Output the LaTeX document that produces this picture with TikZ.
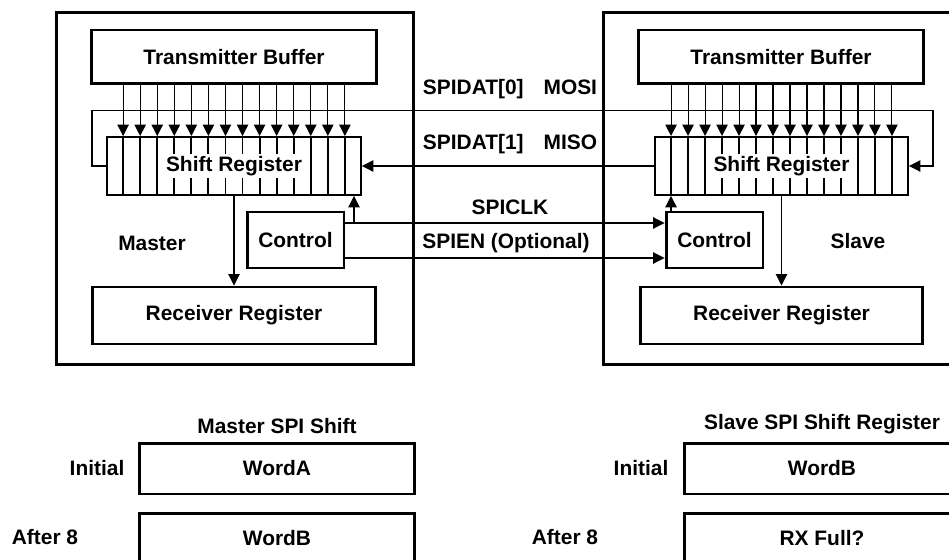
\documentclass[tikz,border=0pt]{standalone}
\usepackage{fontspec}
\setmainfont{Liberation Sans}
\usetikzlibrary{arrows.meta,positioning,calc}

\begin{document}
\begin{tikzpicture}[
    x=0.02cm, y=-0.02cm,
    every node/.style={font=\fontsize{11.9}{14}\selectfont\bfseries, inner sep=1pt},
    outer/.style={draw, line width=1.7pt, minimum width=7.16cm, minimum height=7.06cm},
    box/.style={draw, line width=1.7pt, align=center},
    shreg/.style={draw, line width=1.1pt, minimum height=1.16cm},
    word/.style={box, minimum width=5.52cm, minimum height=1.02cm},
    cell/.style={line width=1.1pt},
    arrow/.style={-{Triangle[length=2.3mm, width=2.3mm]}, line width=0.6pt},
  ]
  \useasboundingbox (0,0) rectangle (949,560);
  \clip (0,0) rectangle (949,560);

  % Master
  \node[outer] (mOuter) at (235,188.5) {};
  \node[box, minimum width=5.72cm, minimum height=1.08cm] (mBuf) at (234,57) {Transmitter Buffer};
  \node[shreg, minimum width=5.08cm] (mShift) at (234,166) {};
  \node[box, minimum width=1.94cm, minimum height=1.12cm] (mCtrl) at (295.5,240) {Control};
  \node[box, minimum width=5.68cm, minimum height=1.14cm] (mRecv) at (234,315.5) {Receiver Register};
  \node (mName) at (152,243) {Master};

  \foreach \i in {1,...,14}{
    \coordinate (mc\i) at ($(mShift.north west)!\i/15!(mShift.north east)$);
    \draw[cell] (mc\i) -- (mc\i |- mShift.south);
    \draw[arrow] (mc\i |- mBuf.south) -- (mc\i);
  }
  \node[fill=white] (mShiftTxt) at (mShift) {Shift Register};

  % Slave
  \node[outer] (sOuter) at (782,188.5) {};
  \node[box, minimum width=5.72cm, minimum height=1.08cm] (sBuf) at (781,57) {Transmitter Buffer};
  \node[shreg, minimum width=5.06cm] (sShift) at (781.5,166) {};
  \node[box, minimum width=1.94cm, minimum height=1.12cm] (sCtrl) at (714.5,240) {Control};
  \node[box, minimum width=5.66cm, minimum height=1.14cm] (sRecv) at (781.5,315.5) {Receiver Register};
  \node (sName) at (858,241) {Slave};

  \foreach \i in {1,...,14}{
    \coordinate (sc\i) at ($(sShift.north west)!\i/15!(sShift.north east)$);
    \draw[cell] (sc\i) -- (sc\i |- sShift.south);
    \draw[arrow] (sc\i |- sBuf.south) -- (sc\i);
  }
  \node[fill=white] (sShiftTxt) at (sShift) {Shift Register};

  % Signals between master and slave
  \coordinate (mosiL) at (92,110.7);
  \coordinate (mosiR) at (933,110.7);
  \draw[arrow] (mShift.west) -| (mosiL) -- (mosiR) |- (sShift.east);
  \draw[arrow] (sShift.west) -- (mShift.east);

  \coordinate (mClk) at (344,223);
  \coordinate (mBranch) at (354,223);
  \coordinate (mEn) at (344,258);
  \coordinate (sUp) at (671,212);
  \draw[arrow] (mClk) -- (mClk -| sCtrl.west);
  \draw[arrow] (mBranch) -- (mBranch |- mShift.south);
  \draw[arrow] (mEn) -- (mEn -| sCtrl.west);
  \draw[arrow] (sUp) -- (sUp |- sShift.south);

  \draw[arrow] (mShift.south) -- (mRecv.north);
  \draw[arrow] (sShift.south) -- (sRecv.north);

  \node (mosiLbl) at (510,89) {SPIDAT[0]\hspace{0.4cm}MOSI};
  \node (misoLbl) at (510,144) {SPIDAT[1]\hspace{0.4cm}MISO};
  \node (clkLbl) at (510,207) {SPICLK};
  \node (enLbl) at (506,243) {SPIEN (Optional)};

  % Shift contents
  \node (mTitle) at (277,426) {Master SPI Shift};
  \node[word] (mInit) at (277,468.5) {WordA};
  \node[word] (mAfter) at (277,538.5) {WordB};
  \node (mInitLbl) at (97,468) {Initial};
  \node (mAfterLbl) at (45,537) {After 8};

  \node (sTitle) at (822,424) {Slave SPI Shift Register};
  \node[word] (sInit) at (822,468.5) {WordB};
  \node[word] (sAfter) at (822,538.5) {RX Full?};
  \node (sInitLbl) at (641,468) {Initial};
  \node (sAfterLbl) at (565,537) {After 8};
\end{tikzpicture}
\end{document}
